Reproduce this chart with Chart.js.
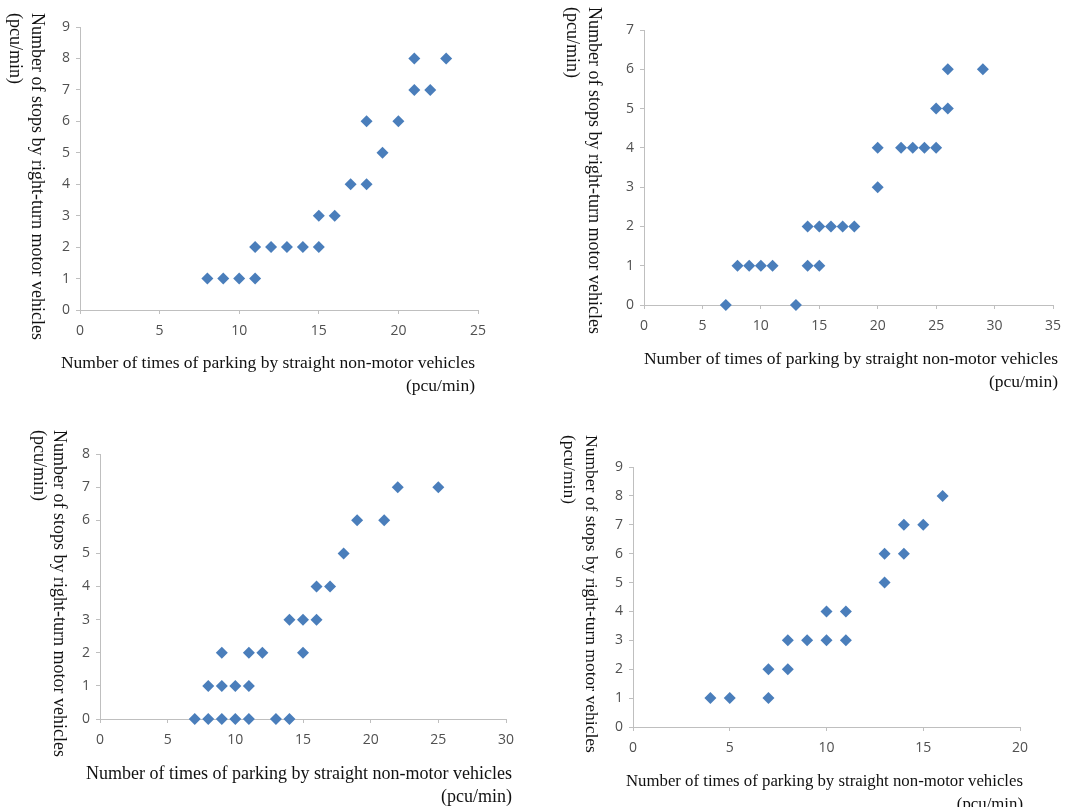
<!DOCTYPE html>
<html>
<head>
<meta charset="utf-8">
<script src="https://cdn.jsdelivr.net/npm/chart.js@4/dist/chart.umd.min.js"></script>
<style>
  body { margin: 0; background: #fff; width: 1083px; height: 807px; position: relative; overflow: hidden; }
  canvas { position: absolute; }
  .ytitle { position: absolute; writing-mode: vertical-rl; font-family: "Liberation Serif", serif; font-size: 18px; line-height: 22px; color: #111; white-space: nowrap; }
  .xtitle { position: absolute; font-family: "Liberation Serif", serif; font-size: 17.5px; line-height: 23px; color: #111; text-align: right; white-space: nowrap; }
</style>
</head>
<body>
<canvas id="c1"></canvas>
<canvas id="c2"></canvas>
<canvas id="c3"></canvas>
<canvas id="c4"></canvas>

<div class="ytitle" style="left:5px;top:13px">Number of stops by right-turn motor vehicles<br>(pcu/min)</div>
<div class="ytitle" style="left:562px;top:7px">Number of stops by right-turn motor vehicles<br>(pcu/min)</div>
<div class="ytitle" style="left:30px;top:430px;line-height:20px">Number of stops by right-turn motor vehicles<br>(pcu/min)</div>
<div class="ytitle" style="left:559px;top:435px;font-size:17.5px">Number of stops by right-turn motor vehicles<br>(pcu/min)</div>

<div class="xtitle" style="right:calc(1083px - 475px);top:351px">Number of times of parking by straight non-motor vehicles<br>(pcu/min)</div>
<div class="xtitle" style="right:calc(1083px - 1058px);top:347px">Number of times of parking by straight non-motor vehicles<br>(pcu/min)</div>
<div class="xtitle" style="right:calc(1083px - 512px);top:762px;font-size:18px">Number of times of parking by straight non-motor vehicles<br>(pcu/min)</div>
<div class="xtitle" style="right:calc(1083px - 1023px);top:769px;font-size:16.8px">Number of times of parking by straight non-motor vehicles<br>(pcu/min)</div>

<script>
// panel 1 (top left)
const x1 = [8, 9, 10, 11, 11, 12, 13, 14, 15, 15, 16, 17, 18, 18, 19, 20, 21, 21, 22, 23];
const y1 = [1, 1, 1, 1, 2, 2, 2, 2, 2, 3, 3, 4, 4, 6, 5, 6, 7, 8, 7, 8];
// panel 2 (top right)
const x2 = [7, 8, 9, 10, 11, 13, 14, 15, 14, 15, 16, 17, 18, 20, 20, 22, 23, 24, 25, 25, 26, 26, 29];
const y2 = [0, 1, 1, 1, 1, 0, 1, 1, 2, 2, 2, 2, 2, 3, 4, 4, 4, 4, 4, 5, 5, 6, 6];
// panel 3 (bottom left)
const x3 = [7, 8, 9, 10, 11, 13, 14, 8, 9, 10, 11, 9, 11, 12, 15, 14, 15, 16, 16, 17, 18, 19, 21, 22, 25];
const y3 = [0, 0, 0, 0, 0, 0, 0, 1, 1, 1, 1, 2, 2, 2, 2, 3, 3, 3, 4, 4, 5, 6, 6, 7, 7];
// panel 4 (bottom right)
const x4 = [4, 5, 7, 7, 8, 8, 9, 10, 10, 11, 11, 13, 13, 14, 14, 15, 16];
const y4 = [1, 1, 1, 2, 2, 3, 3, 3, 4, 3, 4, 5, 6, 6, 7, 7, 8];

const xMaxes = [25, 35, 30, 20];
const yMaxes = [9, 7, 8, 9];

// fixed axis sizes + generous padding so the plot area lands where we want it
const AXW = 30, AXH = 36, PAD = 22;
const axisColor = '#BFBFBF';
const tickFont = { family: 'Open Sans', size: 14 };

function makeChart(id, xs, ys, xMax, yMax, rect) {
  const canvas = document.getElementById(id);
  const w = (rect.right - rect.left) + AXW + 2 * PAD;
  const h = (rect.bottom - rect.top) + AXH + 2 * PAD;
  canvas.width = w;
  canvas.height = h;
  canvas.style.left = (rect.left - AXW - PAD) + 'px';
  canvas.style.top = (rect.top - PAD) + 'px';

  const points = xs.map((x, i) => ({ x: x, y: ys[i] }));

  new Chart(canvas.getContext('2d'), {
    type: 'scatter',
    data: {
      datasets: [{
        data: points,
        pointStyle: 'rectRot',
        pointRadius: 6,
        backgroundColor: '#4A7EBB',
        borderWidth: 0,
        clip: false,
      }],
    },
    options: {
      responsive: false,
      animation: false,
      devicePixelRatio: 1,
      layout: { padding: PAD },
      plugins: { legend: { display: false }, tooltip: { enabled: false } },
      scales: {
        x: {
          type: 'linear',
          min: 0,
          max: xMax,
          afterFit: (s) => { s.height = AXH; },
          ticks: { stepSize: 5, color: '#505050', font: tickFont, padding: 9, maxRotation: 0 },
          grid: { drawOnChartArea: false, drawTicks: true, tickLength: 4, color: axisColor },
          border: { color: axisColor },
        },
        y: {
          type: 'linear',
          min: 0,
          max: yMax,
          afterFit: (s) => { s.width = AXW; },
          ticks: { stepSize: 1, color: '#505050', font: tickFont, padding: 6 },
          grid: { drawOnChartArea: false, drawTicks: true, tickLength: 4, color: axisColor },
          border: { color: axisColor },
        },
      },
    },
  });
}

makeChart('c1', x1, y1, xMaxes[0], yMaxes[0], { left: 80, right: 478, top: 27, bottom: 310 });
makeChart('c2', x2, y2, xMaxes[1], yMaxes[1], { left: 644, right: 1053, top: 30, bottom: 305 });
makeChart('c3', x3, y3, xMaxes[2], yMaxes[2], { left: 100, right: 506, top: 454, bottom: 719 });
makeChart('c4', x4, y4, xMaxes[3], yMaxes[3], { left: 633, right: 1020, top: 467, bottom: 727 });
</script>
</body>
</html>
